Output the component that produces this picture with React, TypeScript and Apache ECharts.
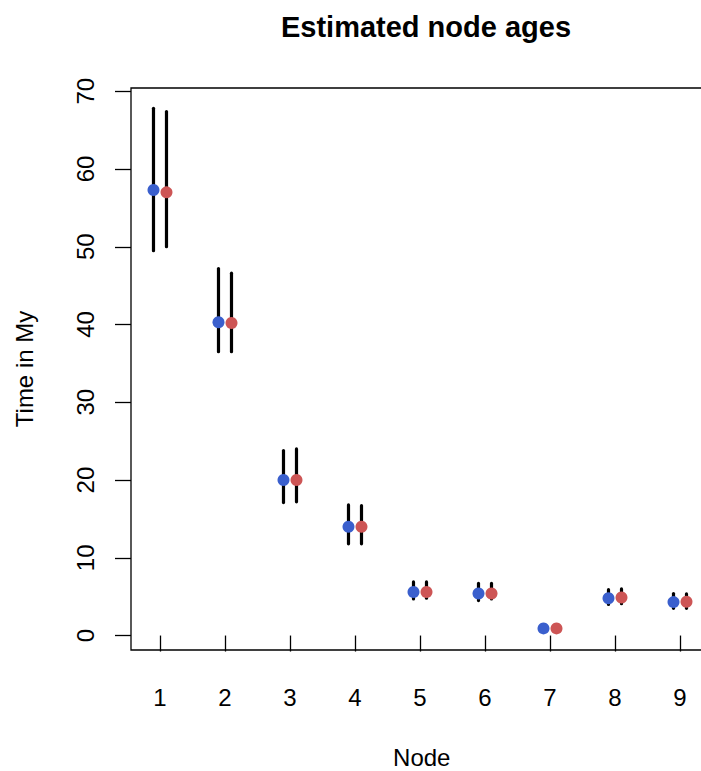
import React, { useEffect, useRef } from "react";
import * as echarts from "echarts";

const nodes = [1, 2, 3, 4, 5, 6, 7, 8, 9];
const blueMean = [57.3, 40.3, 20.0, 14.0, 5.6, 5.4, 0.92, 4.8, 4.3];
const blueLow = [49.5, 36.5, 17.1, 11.8, 4.7, 4.5, 0.7, 4.0, 3.5];
const blueHigh = [67.8, 47.2, 23.8, 16.8, 6.9, 6.7, 1.1, 5.9, 5.4];
const redMean = [57.0, 40.2, 20.0, 14.0, 5.6, 5.4, 0.92, 4.9, 4.35];
const redLow = [50.0, 36.5, 17.2, 11.8, 4.8, 4.7, 0.7, 4.1, 3.5];
const redHigh = [67.4, 46.6, 24.0, 16.7, 6.9, 6.7, 1.1, 6.0, 5.35];
const yTicks = [0, 10, 20, 30, 40, 50, 60, 70];
const offset = 0.1;

const FONT = "'Liberation Sans', Arial, Helvetica, sans-serif";

export default function App() {
  const ref = useRef<HTMLDivElement>(null);
  useEffect(() => {
    if (!ref.current) return;
    const chart = echarts.init(ref.current, null, { renderer: "svg" });
    const bars: number[][] = [];
    nodes.forEach((n, i) => {
      bars.push([n - offset, blueLow[i], blueHigh[i]]);
      bars.push([n + offset, redLow[i], redHigh[i]]);
    });
    const blueData = nodes.map((n, i) => [n - offset, blueMean[i]]);
    const redData = nodes.map((n, i) => [n + offset, redMean[i]]);
    chart.setOption({
      animation: false,
      backgroundColor: "#ffffff",
      textStyle: { fontFamily: FONT },
      title: {
        text: "Estimated node ages",
        left: 421,
        top: 7,
        textAlign: "center",
        textStyle: { fontFamily: FONT, fontSize: 29, fontWeight: "bold", color: "#000" },
      },
      grid: {
        left: 131,
        top: 88,
        width: 581.5,
        height: 562,
        show: true,
        borderColor: "#000",
        borderWidth: 1.3,
        backgroundColor: "transparent",
        outerBoundsMode: "none",
        containLabel: false,
      },
      xAxis: {
        type: "value",
        min: 0.554,
        max: 9.5,
        name: "Node",
        nameLocation: "middle",
        nameGap: 95,
        nameTextStyle: { fontFamily: FONT, fontSize: 24, color: "#000" },
        axisLine: { show: false },
        splitLine: { show: false },
        axisTick: {
          show: true,
          length: 16,
          lineStyle: { color: "#000", width: 1.3 },
          customValues: nodes,
        },
        axisLabel: {
          fontFamily: FONT,
          fontSize: 24,
          color: "#000",
          margin: 35,
          customValues: nodes,
          formatter: (v: number) => String(v),
        },
      },
      yAxis: {
        type: "value",
        min: -1.86,
        max: 70.42,
        name: "Time in My",
        nameLocation: "middle",
        nameGap: 95,
        nameRotate: 90,
        nameTextStyle: { fontFamily: FONT, fontSize: 24, color: "#000" },
        axisLine: { show: false },
        splitLine: { show: false },
        axisTick: {
          show: true,
          length: 16,
          lineStyle: { color: "#000", width: 1.3 },
          customValues: yTicks,
        },
        axisLabel: {
          fontFamily: FONT,
          fontSize: 24,
          color: "#000",
          margin: 34,
          rotate: 90,
          customValues: yTicks,
          formatter: (v: number) => String(v),
        },
      },
      series: [
        {
          type: "custom",
          data: bars,
          z: 1,
          renderItem: (params: any, api: any) => {
            const x = api.value(0);
            const p1 = api.coord([x, api.value(1)]);
            const p2 = api.coord([x, api.value(2)]);
            return {
              type: "line",
              shape: { x1: p1[0], y1: p1[1], x2: p2[0], y2: p2[1] },
              style: { stroke: "#000", lineWidth: 3.2, lineCap: "round" },
            };
          },
        },
        {
          type: "scatter",
          data: blueData,
          symbol: "circle",
          symbolSize: 12,
          z: 3,
          itemStyle: { color: "#3A5FCD", opacity: 1 },
        },
        {
          type: "scatter",
          data: redData,
          symbol: "circle",
          symbolSize: 12,
          z: 3,
          itemStyle: { color: "#CD5555", opacity: 1 },
        },
      ],
    });
    return () => chart.dispose();
  }, []);
  return (
    <div
      ref={ref}
      style={{ position: "absolute", left: 0, top: 0, width: 701, height: 771 }}
    />
  );
}
